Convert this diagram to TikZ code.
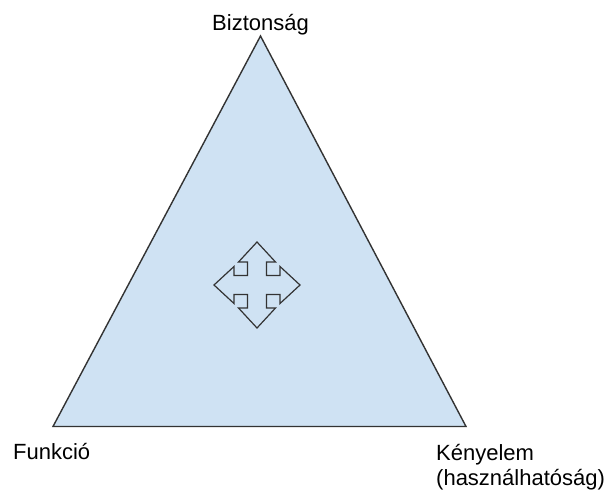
\documentclass[tikz,border=0pt]{standalone}
\usepackage{fontspec}
\setmainfont{Liberation Sans}
\usepackage{tikz}
\usetikzlibrary{positioning, calc}

\definecolor{triblue}{HTML}{CFE2F3}
\definecolor{edgegray}{HTML}{333333}

\begin{document}
\begin{tikzpicture}[
  x=1pt, y=-1pt,
  cornertext/.style={inner sep=0pt, align=left, font=\fontsize{22}{25}\selectfont},
  tri/.style={fill=triblue, draw=edgegray, line width=1.4pt, line join=miter},
  moveicon/.style={fill=triblue, draw=edgegray, line width=1.2pt, line join=miter}
]

\useasboundingbox (0,0) rectangle (609,489);

\coordinate (top)   at (260.5,36);
\coordinate (left)  at (53,426.5);
\coordinate (right) at (466,426.5);
\coordinate (mid)   at (257,285);

\draw[tri] (top) -- (right) -- (left) -- cycle;

\draw[moveicon, shift={(mid)}]
  (0,-43) -- (18.5,-23) -- (9.5,-23) -- (9.5,-9.5) -- (23,-9.5) -- (23,-18.5)
  -- (43,0) -- (23,18.5) -- (23,9.5) -- (9.5,9.5) -- (9.5,23) -- (18.5,23)
  -- (0,43) -- (-18.5,23) -- (-9.5,23) -- (-9.5,9.5) -- (-23,9.5) -- (-23,18.5)
  -- (-43,0) -- (-23,-18.5) -- (-23,-9.5) -- (-9.5,-9.5) -- (-9.5,-23) -- (-18.5,-23)
  -- cycle;

\node[cornertext, anchor=base]      (safety)  at (260.5,31) {Biztonság};
\node[cornertext, anchor=base west] (func)    at (13,459)   {Funkció};
\node[cornertext, anchor=base west] (comfort) at (436,485)  {Kényelem\\(használhatóság)};

\end{tikzpicture}
\end{document}
